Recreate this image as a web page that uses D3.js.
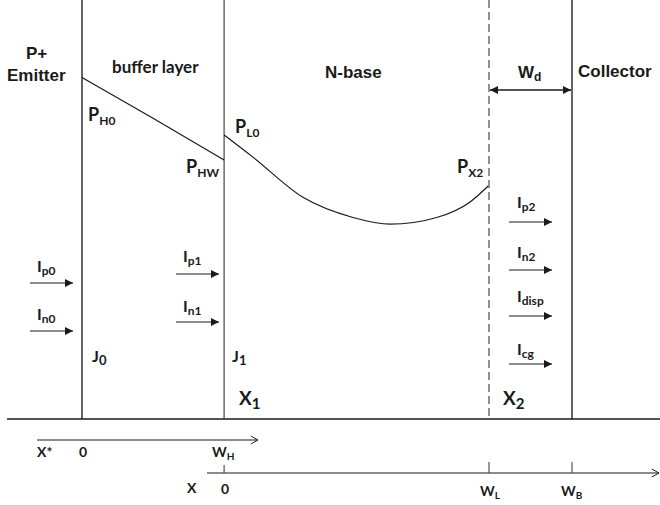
<!DOCTYPE html>
<html>
<head>
<meta charset="utf-8">
<script src="https://cdn.jsdelivr.net/npm/d3@7"></script>
<style>
  body { margin: 0; background: #fff; }
  .arial { font-family: "Liberation Sans", Arial, sans-serif; font-weight: bold; fill: #1a1a1a; }
  .cal { font-family: Lato, "Open Sans", sans-serif; font-weight: bold; fill: #1a1a1a; }
</style>
</head>
<body>
<svg id="chart" width="660" height="505"></svg>
<script>
// device layers, position along the device (J0 = 0, collector = 100)
let boundaries = [
    { name: "J0", pos: 0, dashed: false, color: "#111" },
    { name: "J1", pos: 29, dashed: false, color: "#555" },
    { name: "WL", pos: 83.06, dashed: true, color: "#777" },
    { name: "WB", pos: 100, dashed: false, color: "#111" }
];

// carrier concentration profile, buffer layer
let bufferProfile = [
    { pos: 0, p: 81.5 },
    { pos: 14.5, p: 71.8 },
    { pos: 29, p: 61.8 }
];

// carrier concentration profile, N-base
let baseProfile = [
    { pos: 29, p: 67.8 },
    { pos: 34.9, p: 62.5 },
    { pos: 45.1, p: 52.9 },
    { pos: 55.3, p: 48.1 },
    { pos: 62.9, p: 46.5 },
    { pos: 72.4, p: 48.1 },
    { pos: 79.2, p: 51.8 },
    { pos: 82.9, p: 55.6 }
];

let leftCurrents = ["p0", "n0"];
let junctionCurrents = ["p1", "n1"];
let collectorCurrents = ["p2", "n2", "disp", "cg"];

let svg = d3.select("#chart");

let xScale = d3.scaleLinear().domain([0, 100]).range([82, 572]);
let yScale = d3.scaleLinear().domain([0, 100]).range([419, 0]);

let baseY = 419;

// arrowhead markers
let defs = svg.append("defs");
defs.append("marker")
    .attr("id", "tri")
    .attr("viewBox", "0 0 10 10")
    .attr("refX", 10).attr("refY", 5)
    .attr("markerWidth", 9).attr("markerHeight", 8)
    .attr("markerUnits", "userSpaceOnUse")
    .attr("orient", "auto-start-reverse")
    .append("path").attr("d", "M0,0L10,5L0,10Z").attr("fill", "#1a1a1a");
defs.append("marker")
    .attr("id", "open")
    .attr("viewBox", "0 0 10 10")
    .attr("refX", 10).attr("refY", 5)
    .attr("markerWidth", 8).attr("markerHeight", 10)
    .attr("markerUnits", "userSpaceOnUse")
    .attr("orient", "auto")
    .append("path").attr("d", "M1,0L10,5L1,10").attr("fill", "none")
    .attr("stroke", "#1a1a1a").attr("stroke-width", 1.2);

// layer boundaries
svg.selectAll("line.boundary")
    .data(boundaries)
    .join("line")
    .attr("class", "boundary")
    .attr("x1", d => xScale(d.pos)).attr("x2", d => xScale(d.pos))
    .attr("y1", 0).attr("y2", baseY)
    .attr("stroke", d => d.color)
    .attr("stroke-width", d => d.dashed ? 1.6 : 1.3)
    .attr("stroke-dasharray", d => d.dashed ? "8,4" : null);

// baseline
svg.append("line")
    .attr("x1", 7).attr("x2", 660).attr("y1", baseY).attr("y2", baseY)
    .attr("stroke", "#1a1a1a").attr("stroke-width", 1.3);

// profiles
let line = d3.line().x(d => xScale(d.pos)).y(d => yScale(d.p));
svg.append("path")
    .attr("d", line(bufferProfile))
    .attr("fill", "none").attr("stroke", "#1a1a1a").attr("stroke-width", 1.2);
svg.append("path")
    .attr("d", line.curve(d3.curveMonotoneX)(baseProfile))
    .attr("fill", "none").attr("stroke", "#1a1a1a").attr("stroke-width", 1.2);

// helper for text with subscript
function label(x, y, main, sub, size, subSize, cls) {
    let t = svg.append("text").attr("class", cls).attr("x", x).attr("y", y)
        .attr("font-size", size);
    t.append("tspan").text(main);
    if (sub) {
        t.append("tspan").attr("font-size", subSize).attr("dy", size * 0.2).text(sub);
    }
    return t;
}

// region titles
label(26, 59, "P+", null, 17, 0, "arial");
label(7, 81, "Emitter", null, 17, 0, "arial");
label(112, 73, "buffer layer", null, 17, 0, "cal");
label(325, 78, "N-base", null, 17, 0, "arial");
label(578, 77, "Collector", null, 17, 0, "arial");
label(518, 78, "W", "d", 17, 12, "arial");

// Wd double arrow
svg.append("line")
    .attr("x1", xScale(boundaries[2].pos) + 1).attr("x2", xScale(boundaries[3].pos) - 1)
    .attr("y1", 90).attr("y2", 90)
    .attr("stroke", "#1a1a1a").attr("stroke-width", 1.3)
    .attr("marker-start", "url(#tri)").attr("marker-end", "url(#tri)");

// concentration labels
label(88, 121, "P", "H0", 18, 12, "cal");
label(186, 173, "P", "HW", 18, 12, "cal");
label(235, 133, "P", "L0", 18, 12, "cal");
label(457, 173, "P", "X2", 18, 12, "cal");

// current arrows
function currents(names, x1, x2, ys, lx, lys) {
    names.forEach((n, i) => {
        svg.append("line")
            .attr("x1", x1).attr("x2", x2).attr("y1", ys[i]).attr("y2", ys[i])
            .attr("stroke", "#1a1a1a").attr("stroke-width", 1.1)
            .attr("marker-end", "url(#tri)");
        label(lx, lys[i], "I", n, 16, 12, "cal");
    });
}
currents(leftCurrents, 30, 73, [283, 331], 37, [272, 320]);
currents(junctionCurrents, 176, 219, [274, 322], 183, [262, 312]);
currents(collectorCurrents, 509, 552, [222, 270, 316, 364], 517, [208, 258, 302, 355]);

// junction labels
label(92, 362, "J", "0", 16, 13, "cal");
label(232, 362, "J", "1", 16, 13, "cal");
label(239, 405, "X", "1", 19, 15, "cal");
label(503, 405, "X", "2", 19, 15, "cal");

// X* axis (buffer coordinate)
svg.append("line")
    .attr("x1", 37).attr("x2", 258).attr("y1", 440).attr("y2", 440)
    .attr("stroke", "#1a1a1a").attr("stroke-width", 1.1)
    .attr("marker-end", "url(#open)");
label(37, 457, "X*", null, 14, 0, "cal");
label(79, 457, "0", null, 14, 0, "cal");
label(212, 457, "W", "H", 14, 10, "cal");

// X axis (base coordinate)
svg.append("line")
    .attr("x1", 207).attr("x2", 659).attr("y1", 473).attr("y2", 473)
    .attr("stroke", "#1a1a1a").attr("stroke-width", 1.1)
    .attr("marker-end", "url(#open)");
svg.selectAll("line.tick")
    .data(boundaries.slice(1))
    .join("line")
    .attr("class", "tick")
    .attr("x1", d => xScale(d.pos)).attr("x2", d => xScale(d.pos))
    .attr("y1", (d, i) => i === 0 ? 465 : 462).attr("y2", 473)
    .attr("stroke", "#555").attr("stroke-width", 1.2);
label(187, 493, "X", null, 14, 0, "cal");
label(221, 494, "0", null, 14, 0, "cal");
label(480, 496, "W", "L", 14, 10, "cal");
label(561, 496, "W", "B", 14, 10, "cal");
</script>
</body>
</html>
